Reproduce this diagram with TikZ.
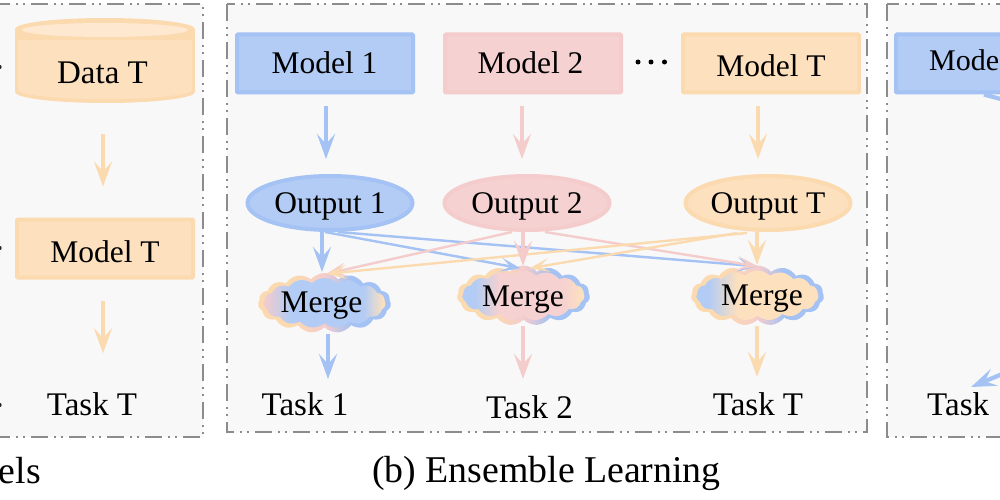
\documentclass[tikz,border=0pt]{standalone}
\usepackage{fontspec}
\setmainfont{Liberation Serif}
\usetikzlibrary{arrows.meta,shapes.symbols,shapes.geometric,calc}
\definecolor{bluef}{RGB}{178,204,245}
\definecolor{blueb}{RGB}{164,194,244}
\definecolor{pinkf}{RGB}{245,209,209}
\definecolor{pinkb}{RGB}{244,204,204}
\definecolor{orgf}{RGB}{253,224,190}
\definecolor{orgb}{RGB}{252,218,176}
\definecolor{orgl}{RGB}{254,233,208}
\definecolor{panelf}{RGB}{248,248,248}
\definecolor{panelb}{RGB}{140,140,140}
\pgfdeclarehorizontalshading{outA}{100bp}{color(0bp)=(orgb); color(25bp)=(orgb); color(38bp)=(orgb); color(50bp)=(pinkb); color(60bp)=(blueb); color(75bp)=(blueb); color(100bp)=(blueb)}
\pgfdeclarehorizontalshading{inA}{100bp}{color(0bp)=(pinkb); color(25bp)=(pinkb); color(36bp)=(bluef); color(66bp)=(bluef); color(74bp)=(orgf); color(75bp)=(orgf); color(100bp)=(orgf)}
\pgfdeclarehorizontalshading{inB}{100bp}{color(0bp)=(bluef); color(25bp)=(bluef); color(30bp)=(bluef); color(40bp)=(pinkf); color(66bp)=(pinkf); color(74bp)=(orgf); color(75bp)=(orgf); color(100bp)=(orgf)}
\pgfdeclarehorizontalshading{inC}{100bp}{color(0bp)=(bluef); color(25bp)=(bluef); color(30bp)=(bluef); color(42bp)=(orgf); color(75bp)=(orgf); color(100bp)=(orgf)}
\tikzset{
 panel/.style={fill=panelf,draw=panelb,line width=2pt,dash pattern=on 17pt off 6pt on 2pt off 5pt on 2pt off 6pt},
 lab/.style={font=\fontsize{31.5}{34}\selectfont,inner sep=0pt,text=black,text height=20pt,text depth=0pt},
 tasklab/.style={lab,font=\fontsize{33}{35}\selectfont},
 captxt/.style={font=\fontsize{37.8}{40}\selectfont,inner sep=0pt,text=black},
 modelbox/.style={rectangle,rounded corners=1pt,minimum width=176pt,minimum height=58pt,line width=4pt,inner sep=0pt,font=\fontsize{31.5}{34}\selectfont,text=black,text height=20pt,text depth=0pt},
 bluebox/.style={modelbox,fill=bluef,draw=blueb},
 pinkbox/.style={modelbox,fill=pinkf,draw=pinkb},
 orgbox/.style={modelbox,fill=orgf,draw=orgb},
 outell/.style={ellipse,minimum width=165pt,minimum height=54pt,line width=4pt,inner sep=0pt,font=\fontsize{31.5}{34}\selectfont,text=black,text height=20pt,text depth=0pt},
 cloudout/.style={cloud,cloud puffs=15,cloud puff arc=100,aspect=2.1,minimum width=133pt,minimum height=60pt,inner sep=0pt,draw=none,shade,shading=outA},
 cloudin/.style={cloud,cloud puffs=15,cloud puff arc=90,aspect=2.1,minimum width=122pt,minimum height=50pt,inner sep=0pt,draw=none,shade},
 barrow/.style={line width=4.2pt,-{Stealth[length=25pt,width=18pt,inset=10pt]}},
 xarrow/.style={line width=2.4pt,-{Stealth[length=20pt,width=14pt,inset=10pt]}},
}
\begin{document}
\begin{tikzpicture}[x=1pt,y=-1pt]
\useasboundingbox (0,0) rectangle (1000,500);
\clip (0,0) rectangle (1000,500);
% panels
\draw[panel] (-30,4) rectangle (203,437);
\draw[panel] (227,4) rectangle (867,432);
\draw[panel] (887,4) rectangle (1030,437);
% left panel
\fill[black!85] (-0.5,67) circle (2.2pt) (-0.5,248) circle (2.2pt) (-0.5,405) circle (2.2pt);
% cylinder
\fill[orgb] (105,29) ellipse [x radius=90,y radius=11];
\fill[orgb] (105,92) ellipse [x radius=90,y radius=11];
\fill[orgb] (15,29) rectangle (195,92);
\fill[orgf] (18,40) rectangle (192,90);
\fill[orgf] (105,90) ellipse [x radius=87,y radius=9];
\fill[orgl] (105,30) ellipse [x radius=83,y radius=7];
\node[inner sep=0pt,minimum width=180pt,minimum height=85pt] (dt) at (105,60.5) {};
\node[tasklab] (dtt) at (102.5,73.5) {Data T};
\node[orgbox,text height=27pt] (lm) at (105,248.5) {Model T};
\node[tasklab] (lt) at (92,405.5) {Task T};
\draw[barrow,orgb] ($(dt.south)+(-2,31)$) -- ($(lm.north)+(-2,-31)$);
\draw[barrow,orgb] ($(lm.south)+(-2,21)$) -- ($(lt.north)+(11,-42)$);
% middle panel boxes
\node[bluebox] (m1) at (325,63.5) {\hspace*{-1pt}Model 1};
\node[pinkbox] (m2) at (533,63.5) {\hspace*{-5pt}Model 2};
\node[orgbox,text height=26pt] (mt) at (771,63.5) {Model T};
\fill[black] (638,62) circle (2.5pt) (651,62) circle (2.5pt) (664.5,62) circle (2.5pt);
\node[outell,fill=bluef,draw=blueb] (o1) at (330,203) {Output 1};
\node[outell,fill=pinkf,draw=pinkb] (o2) at (527,203) {Output 2};
\node[outell,fill=orgf,draw=orgb] (ot) at (768,203) {Output T};
% clouds
\node[cloudout] (c1) at (324.5,303) {};
\node[cloudin,shading=inA] (c1i) at (324.5,303) {};
\node[cloudout] (c2) at (523.5,295.5) {};
\node[cloudin,shading=inB] (c2i) at (523.5,295.5) {};
\node[cloudout] (c3) at (757.5,295.5) {};
\node[cloudin,shading=inC] (c3i) at (757.5,295.5) {};
\node[lab] (c1t) at (321.5,302.5) {Merge};
\node[lab] (c2t) at (523,296) {Merge};
\node[lab] (c3t) at (762,295) {Merge};
% tasks
\node[tasklab] (t1) at (305,405.5) {Task 1};
\node[tasklab] (t2) at (529.5,408) {Task 2};
\node[tasklab] (tt) at (758,405.5) {Task T};
% model to output
\draw[barrow,blueb] (326,106) -- (326,159);
\draw[barrow,pinkb] (522,106) -- (522,159);
\draw[barrow,orgb] (758,106) -- (758,159);
% cross arrows
\draw[xarrow,blueb] ($(o1.south)+(-5,0)$) -- ($(c2.north)+(-3,3)$);
\draw[xarrow,blueb] ($(o1.south)+(8,0)$) -- ($(c3.north)+(0,1)$);
\draw[xarrow,pinkb] ($(o2.south)+(-15,0)$) -- ($(c1.north)+(2,1)$);
\draw[xarrow,pinkb] ($(o2.south)+(18,0)$) -- ($(c3.north)+(0,1)$);
\draw[xarrow,orgb] ($(ot.south)+(-21,1)$) -- ($(c1.north)+(2,1)$);
\draw[xarrow,orgb] ($(ot.south)+(-31,1)$) -- ($(c2.north)+(6,3)$);
\draw[barrow,blueb] (322,232) -- (322,272);
\draw[barrow,pinkb] (523,232) -- (523,266);
\draw[barrow,orgb] (757,232) -- (757,265);
\draw[barrow,blueb] (328,334) -- (328,379);
\draw[barrow,pinkb] (523,326) -- (523,379);
\draw[barrow,orgb] (757,326) -- (757,377);
% right panel
\node[modelbox,fill=bluef,draw=blueb,anchor=west] (rm) at (894,63.5) {};
\node[lab,anchor=west,font=\fontsize{30}{32}\selectfont] (rmt) at (929,61) {Mode};
\node[tasklab,anchor=west] (rt) at (927,405.5) {Task};
\coordinate (ra) at (1036,360);
\coordinate (rb) at (971,387);
\draw[barrow,blueb] (ra) -- (rb);
\coordinate (rc) at (1030,107);
\draw[barrow,blueb] (rm.south) -- (rc);
% captions
\node[captxt,anchor=base east] (ca) at (41,483) {els};
\node[captxt,anchor=base] (cb) at (546.5,482) {(b) Ensemble Learning};
\end{tikzpicture}
\end{document}
